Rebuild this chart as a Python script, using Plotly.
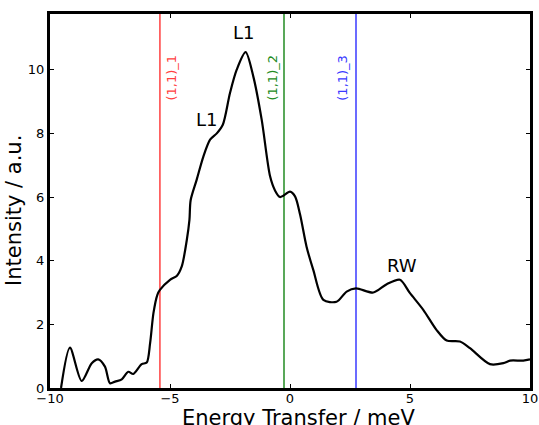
import plotly.graph_objects as go

energy = [-9.54, -9.17, -8.68, -8.26, -7.99, -7.71, -7.5, -7.29, -7.01, -6.74, -6.53, -6.18, -5.97,
          -5.83, -5.69, -5.53, -5.42, -5.0, -4.72, -4.51, -4.3, -4.19, -4.14, -3.89, -3.61, -3.33,
          -3.05, -2.8, -2.5, -2.22, -1.85, -1.53, -1.18, -0.83, -0.62, -0.42, -0.28, 0.0, 0.21,
          0.42, 0.69, 0.97, 1.39, 1.94, 2.36, 2.75, 3.47, 4.03, 4.58, 5.0, 5.56, 6.11, 6.53,
          7.08, 7.5, 8.33, 8.89, 9.17, 9.72, 10.0]
intensity = [0.0, 1.27, 0.22, 0.78, 0.9, 0.67, 0.15, 0.2, 0.27, 0.51, 0.44, 0.75, 0.8,
             1.4, 2.35, 2.92, 3.08, 3.4, 3.52, 3.82, 4.65, 5.28, 5.9, 6.54, 7.27, 7.8,
             8.0, 8.27, 9.27, 10.0, 10.55, 9.79, 8.43, 6.65, 6.2, 6.0, 6.04, 6.17, 6.02,
             5.45, 4.44, 3.71, 2.77, 2.71, 3.03, 3.13, 3.0, 3.26, 3.4, 2.98, 2.45, 1.82, 1.49,
             1.46, 1.25, 0.75, 0.78, 0.86, 0.86, 0.9]

line_pos = [-5.42, -0.25, 2.75]
line_labels = ["(1,1)_1", "(1,1)_2", "(1,1)_3"]
line_colors = ["#ff4040", "#228b22", "#3a3aff"]
label_x = [-4.92, -0.71, 2.21]
label_y = 9.75

peak_labels = ["L1", "L1", "RW"]
peak_x = [-1.92, -3.5, 4.67]
peak_y = [11.16, 8.43, 3.84]

x_ticks = [-10, -5, 0, 5, 10]
y_ticks = [0, 2, 4, 6, 8, 10]
y_max = 11.75
x_title = "Energy Transfer / meV"
y_title = "Intensity / a.u."

fig = go.Figure()
for xp, col in zip(line_pos, line_colors):
    fig.add_trace(go.Scatter(x=[xp, xp], y=[0, y_max], mode="lines",
                             line=dict(color=col, width=1.5), showlegend=False, hoverinfo="skip"))
fig.add_trace(go.Scatter(x=energy, y=intensity, mode="lines",
                         line=dict(color="black", width=2.2, shape="spline", smoothing=0.8),
                         showlegend=False))

for lx, lab, col in zip(label_x, line_labels, line_colors):
    fig.add_annotation(x=lx, y=label_y, text=lab, textangle=-90, showarrow=False,
                       font=dict(family="DejaVu Sans", size=13, color=col))
for px, py, lab in zip(peak_x, peak_y, peak_labels):
    fig.add_annotation(x=px, y=py, text=lab, showarrow=False,
                       font=dict(family="DejaVu Sans", size=18, color="black"))

title_font = dict(family="DejaVu Sans", size=21, color="black")
fig.add_annotation(xref="paper", yref="paper", x=0.5, y=0, yanchor="top", yshift=-16,
                   xshift=8, text=x_title, showarrow=False, font=title_font)
fig.add_annotation(xref="paper", yref="paper", x=0, y=0.5, xanchor="right", xshift=-22,
                   yshift=-9, text=y_title, textangle=-90, showarrow=False, font=title_font)

axis_common = dict(showline=True, linecolor="black", linewidth=3, mirror="ticks",
                   ticks="inside", ticklen=4, tickwidth=1, tickcolor="black",
                   showgrid=False, zeroline=False, automargin=False,
                   tickfont=dict(family="DejaVu Sans", size=13, color="black"))
fig.update_xaxes(range=[-10, 10], tickvals=x_ticks, ticklabelstandoff=-4, **axis_common)
fig.update_yaxes(range=[0, y_max], tickvals=y_ticks, **axis_common)
fig.update_layout(width=539, height=425, margin=dict(l=50, r=9, t=14, b=37),
                  plot_bgcolor="white", paper_bgcolor="white")
fig.write_html("out.html")
